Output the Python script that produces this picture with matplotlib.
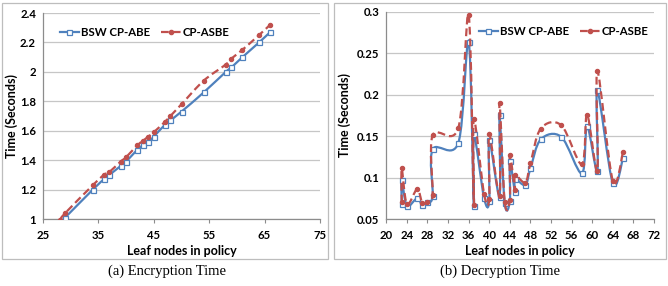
import matplotlib
matplotlib.use("Agg")
import matplotlib.pyplot as plt
from matplotlib.path import Path
from matplotlib.patches import PathPatch, Rectangle
from matplotlib.lines import Line2D
import numpy as np

# ---------------- data ----------------
enc_x = [28, 29, 34, 36, 37, 39, 40, 42, 43, 44, 45, 47, 48, 50, 54, 58, 59, 61, 64, 66]
enc_bsw = [0.975, 1.01, 1.20, 1.27, 1.30, 1.36, 1.39, 1.47, 1.50, 1.52, 1.56, 1.64, 1.67,
           1.73, 1.86, 2.00, 2.03, 2.10, 2.20, 2.27]
enc_asbe = [0.99, 1.04, 1.23, 1.30, 1.32, 1.39, 1.42, 1.50, 1.53, 1.56, 1.59, 1.66, 1.70,
            1.78, 1.94, 2.05, 2.09, 2.15, 2.25, 2.32]

dec_x = [23, 23, 24, 26, 27, 28, 29, 29, 34, 36, 37, 37, 39, 40, 40, 42, 42, 43, 44, 44,
         45, 45, 47, 48, 50, 54, 58, 59, 61, 61, 64, 66]
dec_bsw = [0.068, 0.097, 0.066, 0.075, 0.0665, 0.070, 0.078, 0.134, 0.142, 0.264, 0.066,
           0.152, 0.075, 0.072, 0.145, 0.077, 0.175, 0.069, 0.072, 0.120, 0.082, 0.098,
           0.091, 0.111, 0.146, 0.149, 0.105, 0.162, 0.108, 0.205, 0.093, 0.124]
dec_asbe = [0.070, 0.111, 0.068, 0.086, 0.069, 0.071, 0.079, 0.151, 0.160, 0.296, 0.067,
            0.171, 0.080, 0.074, 0.153, 0.078, 0.190, 0.071, 0.073, 0.127, 0.085, 0.103,
            0.094, 0.117, 0.159, 0.163, 0.116, 0.176, 0.108, 0.229, 0.096, 0.131]

series_names = ["BSW CP-ABE", "CP-ASBE"]
enc_xticks = [25, 35, 45, 55, 65, 75]
enc_yticks = [1, 1.2, 1.4, 1.6, 1.8, 2, 2.2, 2.4]
enc_yticklabels = ["1", "1.2", "1.4", "1.6", "1.8", "2", "2.2", "2.4"]
dec_xticks = list(range(20, 73, 4))
dec_yticks = [0.05, 0.1, 0.15, 0.2, 0.25, 0.3]
dec_yticklabels = ["0.05", "0.1", "0.15", "0.2", "0.25", "0.3"]
xlabel = "Leaf nodes in policy"
ylabel = "Time (Seconds)"
captions = ["(a) Encryption Time", "(b) Decryption Time"]

BLUE = "#4F81BD"
RED = "#C0504D"
GRID = "#C6C6C6"
AXC = "#8C8C8C"
FONT = "Lato"


def smooth_path(xs, ys):
    """Excel-like smoothed line: cubic Bezier with Catmull-Rom control points."""
    P = np.column_stack([xs, ys]).astype(float)
    n = len(P)
    verts = [P[0]]
    codes = [Path.MOVETO]
    for i in range(n - 1):
        p_prev = P[i - 1] if i > 0 else P[i]
        p_next2 = P[i + 2] if i + 2 < n else P[i + 1]
        c1 = P[i] + (P[i + 1] - p_prev) / 6.0
        c2 = P[i + 1] - (p_next2 - P[i]) / 6.0
        verts += [c1, c2, P[i + 1]]
        codes += [Path.CURVE4] * 3
    return Path(verts, codes)


def draw_series(ax, xs, ys, color, ls, marker, mfc, ms, z):
    patch = PathPatch(smooth_path(xs, ys), fill=False, edgecolor=color, lw=1.6,
                      linestyle=ls, zorder=z, capstyle="butt")
    ax.add_patch(patch)
    ax.plot(xs, ys, linestyle="none", marker=marker, markersize=ms,
            markerfacecolor=mfc, markeredgecolor=color, markeredgewidth=0.9, zorder=z + 0.1)


fig = plt.figure(figsize=(6.68, 2.86), dpi=100)
W, H = 668, 286


def ax_rect(x0, y0, x1, y1):
    return [x0 / W, (H - y1) / H, (x1 - x0) / W, (y1 - y0) / H]


# outer frames
for (bx0, bx1) in [(2, 328), (334, 666)]:
    fig.add_artist(Rectangle((bx0 / W, (H - 259) / H), (bx1 - bx0) / W, 256 / H,
                             transform=fig.transFigure, fill=False,
                             edgecolor="#BDBDBD", lw=0.9))

axes_specs = [
    dict(rect=ax_rect(43, 13, 320, 219), x=enc_x, b=enc_bsw, r=enc_asbe,
         xlim=(25, 75), ylim=(1, 2.4), xt=enc_xticks, yt=enc_yticks, ytl=enc_yticklabels,
         leg=(0.06, 0.905), ylab_x=18, cap_x=167),
    dict(rect=ax_rect(386.3, 11.7, 654, 219), x=dec_x, b=dec_bsw, r=dec_asbe,
         xlim=(20, 72), ylim=(0.05, 0.3), xt=dec_xticks, yt=dec_yticks, ytl=dec_yticklabels,
         leg=(0.345, 0.905), ylab_x=351, cap_x=500),
]

dash = (0, (3.5, 1.8))
for spec, cap in zip(axes_specs, captions):
    ax = fig.add_axes(spec["rect"])
    ax.set_xlim(*spec["xlim"])
    ax.set_ylim(*spec["ylim"])
    ax.set_xticks(spec["xt"])
    ax.set_xticklabels([str(v) for v in spec["xt"]])
    ax.set_yticks(spec["yt"])
    ax.set_yticklabels(spec["ytl"])
    ax.grid(axis="y", color=GRID, lw=0.9)
    ax.set_axisbelow(True)
    for s in ["top", "right"]:
        ax.spines[s].set_visible(False)
    for s in ["left", "bottom"]:
        ax.spines[s].set_color(AXC)
        ax.spines[s].set_linewidth(0.9)
    ax.tick_params(axis="x", length=3, width=0.8, color=AXC, pad=5)
    ax.tick_params(axis="y", length=0, pad=5)
    for lab in ax.get_xticklabels() + ax.get_yticklabels():
        lab.set_fontfamily(FONT)
        lab.set_fontweight("bold")
        lab.set_fontsize(8.2)
    ax.set_xlabel(xlabel, fontfamily=FONT, fontweight="bold", fontsize=9, labelpad=3)
    ax.set_ylabel(ylabel, fontfamily=FONT, fontweight="bold", fontsize=9)
    ax.yaxis.set_label_coords((spec["ylab_x"] - spec["rect"][0] * W) / (spec["rect"][2] * W), 0.5)

    draw_series(ax, spec["x"], spec["b"], BLUE, "-", "s", "white", 3.6, 3)
    draw_series(ax, spec["x"], spec["r"], RED, dash, "o", RED, 3.0, 4)

    handles = [
        Line2D([], [], color=BLUE, lw=1.6, marker="s", markersize=3.6,
               markerfacecolor="white", markeredgecolor=BLUE, markeredgewidth=0.9),
        Line2D([], [], color=RED, lw=1.6, linestyle=dash, marker="o", markersize=3.0,
               markerfacecolor=RED, markeredgecolor=RED),
    ]
    leg = ax.legend(handles, series_names, loc="center left", bbox_to_anchor=spec["leg"],
                    ncol=2, frameon=False, handlelength=1.7, handletextpad=0.15,
                    columnspacing=1.0, borderpad=0, borderaxespad=0,
                    prop=dict(family=FONT, weight="bold", size=8.2))

    fig.text(spec["cap_x"] / W, (H - 271) / H, cap, ha="center", va="center",
             fontfamily="Liberation Serif", fontsize=10.5)

fig.savefig("out.png", dpi=100)
